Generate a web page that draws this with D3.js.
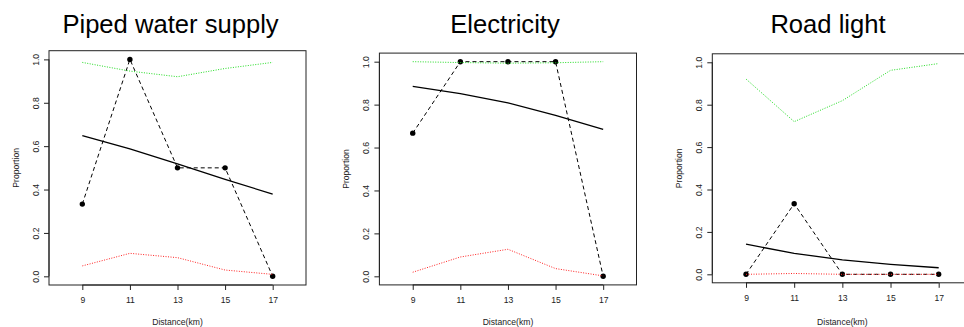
<!DOCTYPE html>
<html>
<head>
<meta charset="utf-8">
<script src="https://cdn.jsdelivr.net/npm/d3@7"></script>
<style>
  html, body { margin: 0; padding: 0; background: #fff; overflow: hidden; }
  svg { display: block; font-family: "Liberation Sans", Arial, Helvetica, sans-serif; }
</style>
</head>
<body>
<svg id="chart" width="964" height="327"></svg>
<script>
// Distance classes (km) shared by all three panels
const distances = [9, 11, 13, 15, 17];
const xTicks = [9, 11, 13, 15, 17];
const yTicks = [0, 0.2, 0.4, 0.6, 0.8, 1.0];
const yTickLabels = ["0.0", "0.2", "0.4", "0.6", "0.8", "1.0"];
const panelTitles = ["Piped water supply", "Electricity", "Road light"];

// Piped water supply
const pipedObserved = [0.333, 1.0, 0.5, 0.5, 0.0];
const pipedFitted   = [0.648, 0.587, 0.518, 0.447, 0.379];
const pipedUpper    = [0.986, 0.946, 0.920, 0.958, 0.986];
const pipedLower    = [0.048, 0.106, 0.086, 0.029, 0.009];

// Electricity
const elecObserved = [0.667, 1.0, 1.0, 1.0, 0.0];
const elecFitted   = [0.885, 0.851, 0.808, 0.750, 0.685];
const elecUpper    = [1.000, 0.996, 0.993, 0.995, 1.000];
const elecLower    = [0.019, 0.090, 0.126, 0.036, 0.002];

// Road light
const roadObserved = [0.0, 0.333, 0.0, 0.0, 0.0];
const roadFitted   = [0.142, 0.099, 0.068, 0.047, 0.031];
const roadUpper    = [0.921, 0.720, 0.819, 0.962, 0.994];
const roadLower    = [0.000, 0.004, 0.000, 0.000, 0.000];

const panelData = [
  { observed: pipedObserved, fitted: pipedFitted, upper: pipedUpper, lower: pipedLower },
  { observed: elecObserved,  fitted: elecFitted,  upper: elecUpper,  lower: elecLower },
  { observed: roadObserved,  fitted: roadFitted,  upper: roadUpper,  lower: roadLower }
];

// Plot-region boxes and title centres for each panel
const boxes = [
  { left: 49,    right: 306,   top: 50.7, bottom: 285,   titleX: 170.5 },
  { left: 379.4, right: 636.5, top: 53.1, bottom: 284.9, titleX: 505 },
  { left: 712.3, right: 972.4, top: 53.8, bottom: 282.8, titleX: 828 }
];

const svg = d3.select("#chart");
const tickFont = 8.6;

panelData.forEach((d, i) => {
  const b = boxes[i];
  // axis ranges padded 4% beyond xlim = [8, 18], ylim = [0, 1]
  const x = d3.scaleLinear().domain([7.6, 18.4]).range([b.left, b.right]);
  const y = d3.scaleLinear().domain([-0.04, 1.04]).range([b.bottom, b.top]);
  const g = svg.append("g");
  const midX = (b.left + b.right) / 2;

  // panel title
  g.append("text")
    .attr("x", b.titleX).attr("y", 33.3)
    .attr("text-anchor", "middle")
    .attr("font-size", 25.6)
    .attr("fill", "#000")
    .text(panelTitles[i]);

  // x axis
  const xAxis = g.append("g")
    .attr("transform", `translate(0,${b.bottom})`)
    .call(d3.axisBottom(x).tickValues(xTicks).tickSize(5).tickPadding(7).tickFormat(d3.format("d")));
  xAxis.select(".domain").attr("d", `M${x(9)},0H${x(17)}`).attr("stroke", "#222");
  xAxis.selectAll(".tick line").attr("stroke", "#222");
  xAxis.selectAll(".tick text")
    .attr("font-size", tickFont).attr("font-family", "Liberation Sans, Arial, sans-serif")
    .attr("fill", "#222");

  // y axis (rotated labels)
  const yAxis = g.append("g")
    .attr("transform", `translate(${b.left},0)`)
    .call(d3.axisLeft(y).tickValues(yTicks).tickSize(5).tickFormat((v, k) => yTickLabels[k]));
  yAxis.select(".domain").attr("d", `M0,${y(0)}V${y(1)}`).attr("stroke", "#222");
  yAxis.selectAll(".tick line").attr("stroke", "#222");
  yAxis.selectAll(".tick text")
    .attr("x", null).attr("dy", null)
    .attr("font-size", tickFont).attr("font-family", "Liberation Sans, Arial, sans-serif")
    .attr("fill", "#222")
    .attr("text-anchor", "middle")
    .attr("transform", "translate(-10.5,0) rotate(-90)");

  // axis titles
  g.append("text")
    .attr("x", midX).attr("y", 324.5)
    .attr("text-anchor", "middle")
    .attr("font-size", tickFont).attr("fill", "#222")
    .text("Distance(km)");
  g.append("text")
    .attr("transform", `translate(${b.left - 30.5},${(y(0) + y(1)) / 2}) rotate(-90)`)
    .attr("text-anchor", "middle")
    .attr("font-size", tickFont).attr("fill", "#222")
    .text("Proportion");

  const pts = key => distances.map((dist, k) => [dist, d[key][k]]);
  const line = d3.line().x(p => x(p[0])).y(p => y(p[1]));

  // observed proportions: dashed line with filled points
  g.append("path").attr("d", line(pts("observed")))
    .attr("fill", "none").attr("stroke", "#000").attr("stroke-width", 1)
    .attr("stroke-dasharray", "4,3");
  g.selectAll("circle.obs").data(pts("observed")).enter().append("circle")
    .attr("class", "obs")
    .attr("cx", p => x(p[0])).attr("cy", p => y(p[1])).attr("r", 2.7)
    .attr("fill", "#000");

  // fitted trend
  g.append("path").attr("d", line(pts("fitted")))
    .attr("fill", "none").attr("stroke", "#000").attr("stroke-width", 1.3);

  // confidence band limits
  g.append("path").attr("d", line(pts("upper")))
    .attr("fill", "none").attr("stroke", "#22dd22").attr("stroke-width", 1)
    .attr("stroke-dasharray", "1,1.5");
  g.append("path").attr("d", line(pts("lower")))
    .attr("fill", "none").attr("stroke", "#ff2222").attr("stroke-width", 1)
    .attr("stroke-dasharray", "1,1.5");

  // plot frame
  g.append("rect")
    .attr("x", b.left).attr("y", b.top)
    .attr("width", b.right - b.left).attr("height", b.bottom - b.top)
    .attr("fill", "none").attr("stroke", "#222").attr("stroke-width", 1);
});
</script>
</body>
</html>
